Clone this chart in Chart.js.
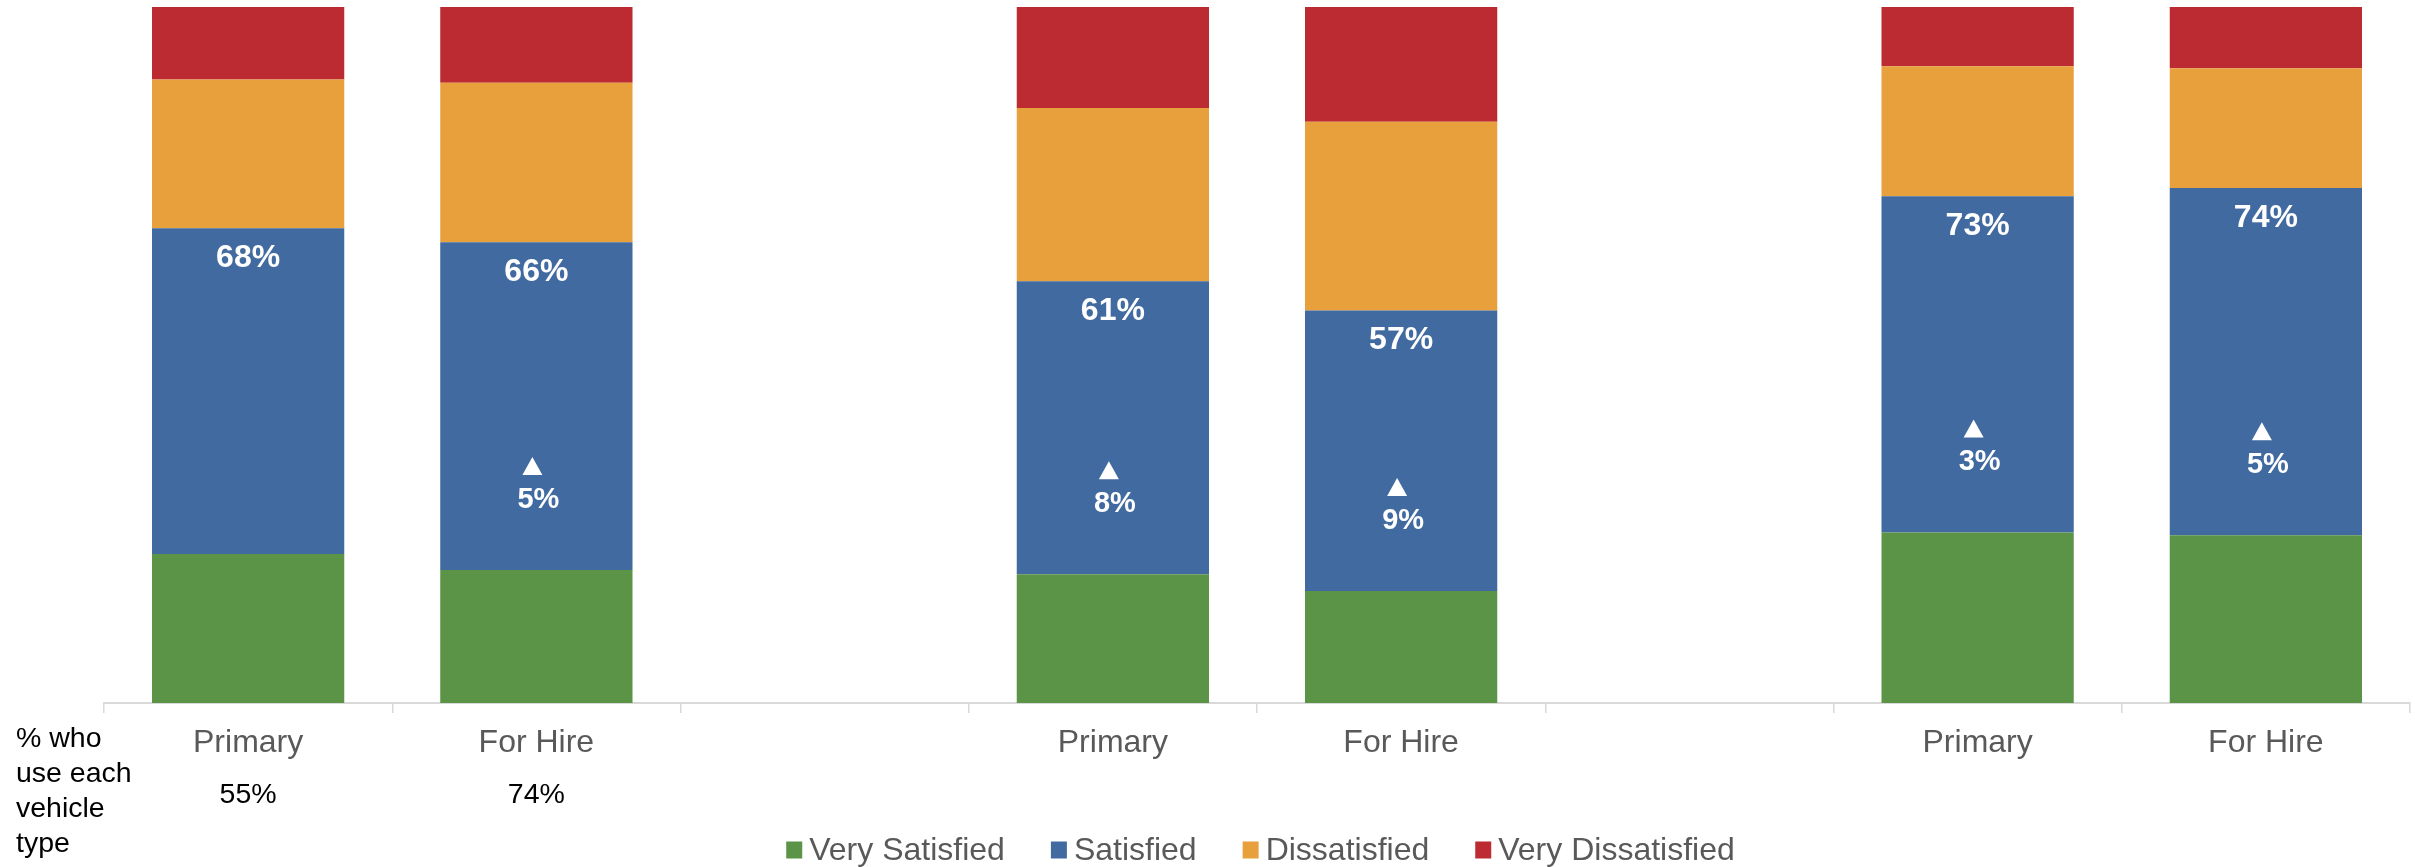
<!DOCTYPE html>
<html>
<head>
<meta charset="utf-8">
<title>Vehicle satisfaction</title>
<script src="https://cdn.jsdelivr.net/npm/chart.js@4.4.0/dist/chart.umd.min.js"></script>
<style>
    html, body { margin: 0; padding: 0; background: #fff; }
    #wrap { position: relative; width: 2415px; height: 867px; }
</style>
</head>
<body>
<div id="wrap"><canvas id="satisfactionChart"></canvas></div>
<script>
const categories = ['Primary', 'For Hire', '', 'Primary', 'For Hire', '', 'Primary', 'For Hire'];
const seriesNames = ['Very Satisfied', 'Satisfied', 'Dissatisfied', 'Very Dissatisfied'];
const verySatisfied = [21.4, 19.1, null, 18.5, 16.1, null, 24.5, 24.1];
const satisfied = [46.8, 47.1, null, 42.1, 40.3, null, 48.3, 49.9];
const dissatisfied = [21.4, 22.9, null, 24.9, 27.1, null, 18.7, 17.2];
const veryDissatisfied = [10.4, 10.9, null, 14.5, 16.5, null, 8.5, 8.8];
// top 2 box (very satisfied + satisfied)
const topTwo = [68, 66, null, 61, 57, null, 73, 74];
// significant increase, shown with an up arrow
const increase = [null, 5, null, 8, 9, null, 3, 5];
const usageNote = ['% who', 'use each', 'vehicle', 'type'];
const usage = [55, 74, null, null, null, null, null, null];
const colors = ['#5B9447', '#416AA0', '#E8A03C', '#BC2B31'];

const FONT = "'Liberation Sans', Arial, sans-serif";

document.addEventListener('DOMContentLoaded', function() {
    const labelsPlugin = {
        id: 'labels',
        afterDatasetsDraw(chart) {
            const c = chart.ctx;
            const blue = chart.getDatasetMeta(1).data;
            c.save();
            c.fillStyle = '#fff';
            c.textAlign = 'center';
            c.textBaseline = 'middle';
            topTwo.forEach((v, i) => {
                if (v == null) return;
                c.font = 'bold 32px ' + FONT;
                c.fillText(v + '%', blue[i].x, blue[i].y + 30);
            });
            increase.forEach((v, i) => {
                if (v == null) return;
                const bar = blue[i];
                const y = bar.base - 70;
                c.font = 'bold 29px ' + FONT;
                c.fillText(v + '%', bar.x + 2, y);
                // up arrow
                const tx = bar.x - 4, ty = y - 34;
                c.beginPath();
                c.moveTo(tx, ty - 9);
                c.lineTo(tx + 10, ty + 9);
                c.lineTo(tx - 10, ty + 9);
                c.closePath();
                c.fill();
            });
            c.restore();
        },
        afterDraw(chart) {
            const c = chart.ctx;
            const bottom = chart.chartArea.bottom;
            const xScale = chart.scales.x;
            c.save();

            // note on the left
            c.fillStyle = '#000';
            c.textAlign = 'left';
            c.textBaseline = 'alphabetic';
            c.font = '28.5px ' + FONT;
            usageNote.forEach((line, i) => {
                c.fillText(line, 16, bottom + 44 + i * 35);
            });

            // usage share under each vehicle type
            c.textAlign = 'center';
            c.textBaseline = 'middle';
            usage.forEach((v, i) => {
                if (v == null) return;
                c.fillText(v + '%', xScale.getPixelForValue(i), bottom + 92);
            });

            // legend
            c.font = '32px ' + FONT;
            const box = 16, gap = 7, spacing = 46;
            const widths = seriesNames.map(n => c.measureText(n).width);
            let total = widths.reduce((a, b) => a + b, 0) + seriesNames.length * (box + gap) + (seriesNames.length - 1) * spacing;
            let x = 1260.5 - total / 2;
            const ly = bottom + 147;
            c.textAlign = 'left';
            seriesNames.forEach((n, i) => {
                c.fillStyle = colors[i];
                c.fillRect(x, ly - 8.5, box, 17);
                c.fillStyle = '#595959';
                c.fillText(n, x + box + gap, ly + 1);
                x += box + gap + widths[i] + spacing;
            });
            c.restore();
        }
    };

    const ctx = document.getElementById('satisfactionChart').getContext('2d');
    const satisfactionChart = new Chart(ctx, {
        type: 'bar',
        data: {
            labels: categories,
            datasets: [verySatisfied, satisfied, dissatisfied, veryDissatisfied].map((d, i) => ({
                label: seriesNames[i],
                data: d,
                backgroundColor: colors[i],
                borderWidth: 0,
                barPercentage: 0.667,
                categoryPercentage: 1
            }))
        },
        options: {
            responsive: true,
            maintainAspectRatio: false,
            animation: false,
            layout: {
                padding: { left: 104, right: 5, top: 7, bottom: 0 }
            },
            plugins: {
                legend: { display: false },
                tooltip: { enabled: false }
            },
            scales: {
                x: {
                    stacked: true,
                    afterFit(scale) { scale.height = 164; },
                    grid: {
                        offset: true,
                        drawOnChartArea: false,
                        drawTicks: true,
                        tickLength: 10,
                        color: '#d9d9d9',
                        lineWidth: 1.5
                    },
                    border: { display: true, color: '#d9d9d9', width: 2 },
                    ticks: {
                        color: '#595959',
                        font: { family: FONT, size: 32 },
                        padding: 11,
                        maxRotation: 0,
                        autoSkip: false
                    }
                },
                y: {
                    stacked: true,
                    display: false,
                    min: 0,
                    max: 100
                }
            }
        },
        plugins: [labelsPlugin]
    });
});
</script>
</body>
</html>
